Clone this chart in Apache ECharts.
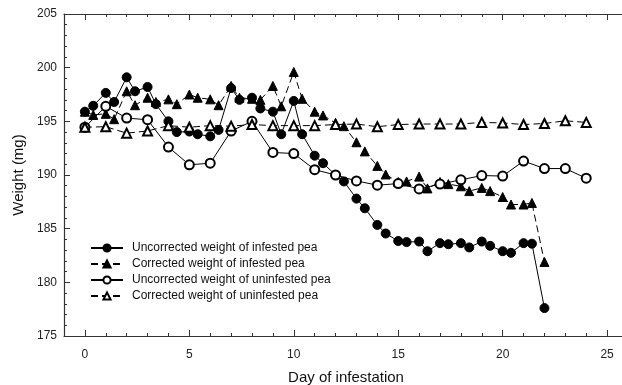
<!DOCTYPE html>
<html>
<head>
<meta charset="utf-8">
<title>Weight of pea</title>
<script src="https://cdn.jsdelivr.net/npm/echarts@6.0.0/dist/echarts.min.js"></script>
<style>
    html, body { margin: 0; padding: 0; background: #fff; }
    #chart { width: 622px; height: 385px; }
</style>
</head>
<body>
<div id="chart"></div>
<script>
// x values (day of infestation)
const daysInfested = [0, 0.4, 1, 1.4, 2, 2.4, 3, 3.4, 4, 4.4, 5, 5.4, 6, 6.4, 7, 7.4, 8, 8.4, 9, 9.4,
    10, 10.4, 11, 11.4, 12, 12.4, 13, 13.4, 14, 14.4, 15, 15.4, 16, 16.4, 17, 17.4, 18, 18.4, 19, 19.4,
    20, 20.4, 21, 21.4, 22]
const daysUninfested = [0, 1, 2, 3, 4, 5, 6, 7, 8, 9, 10, 11, 12, 13, 14, 15, 16, 17, 18, 19, 20, 21, 22, 23, 24]

// weights (mg)
const uncorrectedInfested = [195.9, 196.45, 197.65, 196.8, 199.1, 197.8, 198.2, 196.6, 195.0, 194.0,
    194.05, 193.8, 193.6, 194.2, 198.1, 197.0, 197.2, 196.2, 195.9, 193.8,
    196.9, 193.8, 191.8, 191.1, 190.0, 189.4, 187.8, 186.9, 185.35, 184.55,
    183.85, 183.75, 183.8, 182.9, 183.65, 183.55, 183.65, 183.25, 183.8, 183.4,
    182.9, 182.75, 183.65, 183.6, 177.6]
const correctedInfested = [195.9, 195.6, 195.7, 195.2, 197.8, 196.5, 197.2, 196.8, 197.05, 196.6,
    197.5, 197.2, 197.05, 196.5, 198.3, 197.2, 197.1, 197.0, 198.3, 196.4,
    199.6, 197.1, 195.9, 195.55, 194.85, 194.55, 193.05, 192.2, 190.85, 190.05,
    189.35, 189.4, 189.85, 188.75, 189.35, 189.15, 188.95, 188.5, 188.8, 188.5,
    187.95, 187.25, 187.25, 187.4, 181.9]
const uncorrectedUninfested = [194.45, 196.4, 195.3, 195.15, 192.6, 190.95, 191.1, 194.1, 195.0, 192.1,
    192.0, 190.5, 190.0, 189.45, 189.05, 189.2, 188.7, 189.15, 189.55, 189.95,
    189.9, 191.3, 190.6, 190.6, 189.7]
const correctedUninfested = [194.45, 194.5, 193.9, 194.1, 194.6, 194.45, 194.6, 194.55, 194.7, 194.6,
    194.6, 194.6, 194.7, 194.75, 194.5, 194.7, 194.75, 194.75, 194.75, 194.9,
    194.85, 194.7, 194.8, 195.05, 194.9]

const xMajorTicks = [0, 5, 10, 15, 20, 25]

const seriesNames = [
    'Uncorrected weight of infested pea',
    'Corrected weight of infested pea',
    'Uncorrected weight of uninfested pea',
    'Corrected weight of uninfested pea'
]

document.addEventListener('DOMContentLoaded', function () {
    const myChart = echarts.init(document.getElementById('chart'))
    const font = "'Liberation Sans', Arial, sans-serif"
    const axisColor = '#333'

    function pairs(xs, ys) {
        return xs.map(function (x, i) { return [x, ys[i]] })
    }

    // one x axis for the 1-day ticks, one for the 5-day ticks and labels
    function xAxisDay(position, tickLen) {
        return {
            type: 'value', position: position, min: -1, max: 26, interval: 1,
            axisLine: { show: true, onZero: false, lineStyle: { color: axisColor, width: 1.2 } },
            axisTick: { inside: true, length: tickLen, lineStyle: { color: axisColor } },
            axisLabel: { show: false },
            splitLine: { show: false }
        }
    }
    function xAxisMajor(position, showLabel) {
        return {
            type: 'value', position: position, min: -1, max: 26,
            axisLine: { show: false, onZero: false },
            axisTick: { inside: true, length: 6, customValues: xMajorTicks, lineStyle: { color: axisColor } },
            axisLabel: {
                show: showLabel, customValues: xMajorTicks, margin: 13,
                fontSize: 12, fontFamily: font, color: '#222'
            },
            splitLine: { show: false },
            name: showLabel ? 'Day of infestation' : '',
            nameLocation: 'middle', nameGap: 34,
            nameTextStyle: { fontSize: 15, fontFamily: font, color: '#111' }
        }
    }

    function lineSeries(name, data, symbol, dashed) {
        return {
            name: name,
            type: 'line',
            data: data,
            symbol: symbol,
            symbolSize: 9,
            showSymbol: true,
            xAxisIndex: 0,
            yAxisIndex: 0,
            itemStyle: { color: '#000', borderColor: '#000', borderWidth: 1 },
            lineStyle: { color: '#000', width: 1, type: dashed ? [7, 4] : 'solid' },
            emphasis: { disabled: true }
        }
    }

    const option = {
        animation: false,
        backgroundColor: '#fff',
        // plot box runs to day 26, past the right edge of the picture
        grid: { left: 64, width: 564, top: 14, height: 322, containLabel: false, outerBoundsMode: 'none' },
        legend: {
            orient: 'vertical',
            left: 90,
            top: 241,
            padding: 0,
            itemWidth: 32,
            itemHeight: 9,
            itemGap: 2,
            data: seriesNames,
            textStyle: { fontSize: 12, fontFamily: font, color: '#111', padding: [0, 0, 0, 4], lineHeight: 14 }
        },
        xAxis: [
            xAxisDay('bottom', 3),
            xAxisMajor('bottom', true),
            xAxisDay('top', 3),
            xAxisMajor('top', false)
        ],
        yAxis: [{
            type: 'value',
            min: 175, max: 205, interval: 5,
            axisLine: { show: true, onZero: false, lineStyle: { color: axisColor, width: 1.2 } },
            axisTick: { inside: true, length: 6, lineStyle: { color: axisColor } },
            minorTick: { show: true, splitNumber: 5, length: 3, lineStyle: { color: axisColor } },
            axisLabel: { margin: 7, fontSize: 12, fontFamily: font, color: '#222' },
            splitLine: { show: false },
            name: 'Weight (mg)',
            nameLocation: 'middle',
            nameGap: 38,
            nameTextStyle: { fontSize: 15, fontFamily: font, color: '#111' }
        }],
        series: [
            lineSeries(seriesNames[0], pairs(daysInfested, uncorrectedInfested), 'circle', false),
            lineSeries(seriesNames[1], pairs(daysInfested, correctedInfested), 'triangle', true),
            lineSeries(seriesNames[2], pairs(daysUninfested, uncorrectedUninfested), 'emptyCircle', false),
            lineSeries(seriesNames[3], pairs(daysUninfested, correctedUninfested), 'emptyTriangle', true)
        ]
    }

    myChart.setOption(option)
})
</script>
</body>
</html>
